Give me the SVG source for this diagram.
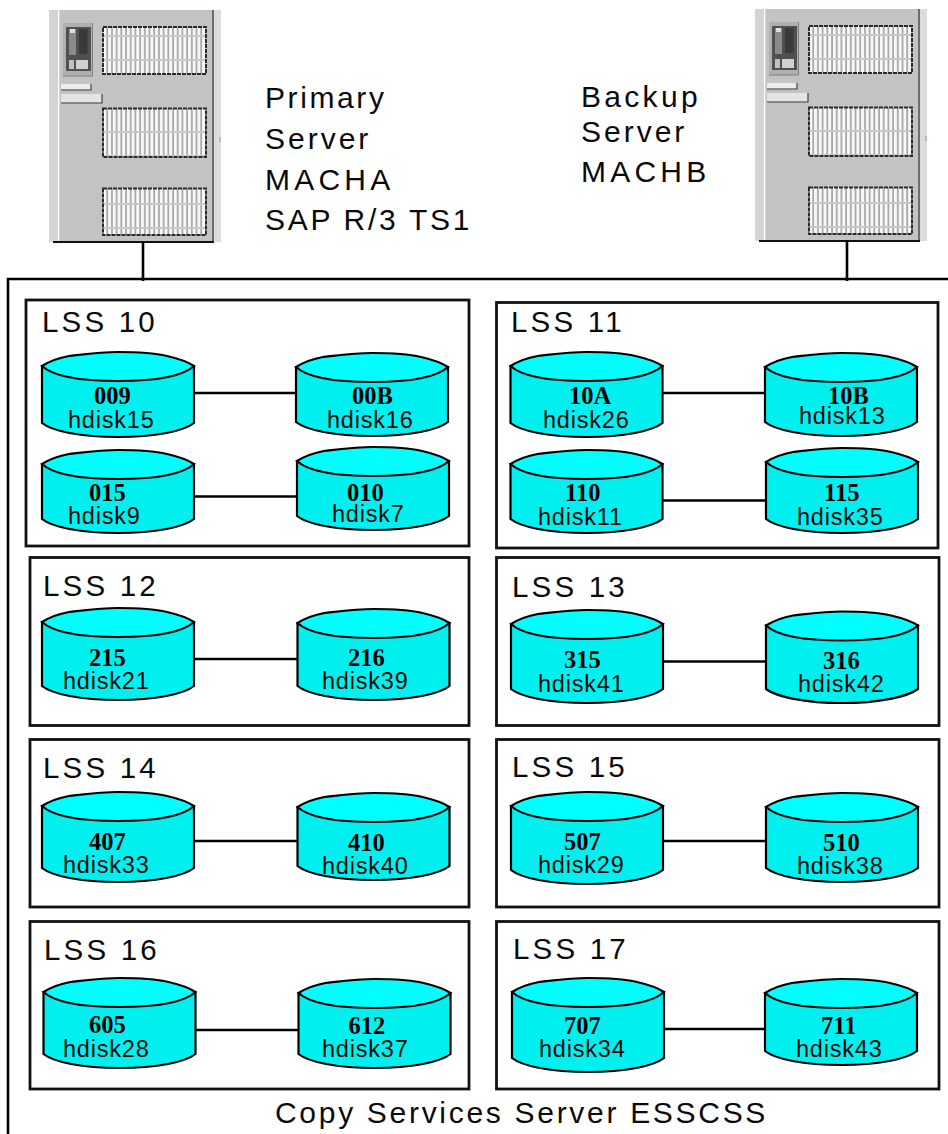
<svg xmlns="http://www.w3.org/2000/svg" width="948" height="1134" viewBox="0 0 948 1134">
<style>
.bg{fill:#fff}
.line{fill:none;stroke:#000;stroke-width:2.6}
.box{fill:#fff;stroke:#111;stroke-width:2.8}
.body{fill:#00f0f0;stroke:#000;stroke-width:2.2}
.top{fill:#0ff;stroke:#000;stroke-width:2.2}
.grille{fill:url(#grid);stroke:#2a2a2a;stroke-width:2;stroke-dasharray:4 1}
.t{font-family:"Liberation Sans",Arial,sans-serif;fill:#0a0a0a}
.big{font-size:30px;letter-spacing:2.7px}
.lss{font-size:29.5px;letter-spacing:3.2px}
.hd{font-size:23.5px;letter-spacing:.8px}
.num{font-family:"Liberation Serif","Times New Roman",serif;font-weight:bold;font-size:24.5px;fill:#000}
</style>
<defs>
<pattern id="grid" width="4.7" height="24" patternUnits="userSpaceOnUse">
<rect width="4.7" height="24" fill="#f8f8f8"/>
<rect x="3" width="1.7" height="24" fill="#a4a4a4"/>
<rect y="11" width="4.7" height="2" fill="#c8c8c8"/>
</pattern>
<path id="top" class="top" d="M0,14 C8,9 16,6 27,4 C45,2 60,0 76,0 C95,0 112,1 125,4 C138,7 146,10 152,14 C140,25 110,29 76,29 C42,29 12,25 0,14 Z"/>
<g id="server">
<rect x="49" y="10" width="172" height="232" fill="#c4c2c4"/>
<rect x="49" y="10" width="9" height="232" fill="#d4d4d4"/>
<rect x="58" y="10" width="1.300" height="232" fill="#fff"/>
<rect x="212" y="10" width="2" height="232" fill="#6e6e6e"/>
<rect x="214" y="10" width="7" height="232" fill="#dcdcdc"/>
<path d="M53,242 H214" stroke="#111" stroke-width="1.800"/>
<rect class="grille" x="103" y="27" width="103" height="47"/>
<rect class="grille" x="103" y="108.500" width="103" height="48.500"/>
<rect class="grille" x="103" y="188.500" width="103" height="46.500"/>
<rect x="63" y="23" width="30" height="53" fill="#b0b0b0"/>
<path d="M92.500,23 V76 H63" fill="none" stroke="#808080" stroke-width="1"/>
<rect x="66" y="27" width="25" height="44" fill="#505050"/>
<rect x="69" y="29" width="7" height="26" fill="#8a8a8a"/>
<rect x="70" y="29" width="5" height="4" fill="#e0e0e0"/>
<rect x="79" y="29" width="8.500" height="25" fill="#3a3a3a"/>
<rect x="69" y="60" width="5" height="9" fill="#c0c0c0"/>
<rect x="76" y="60" width="12" height="9" fill="#d0d0d0"/>
<rect x="61" y="84" width="30" height="5.500" fill="#ececec"/>
<path d="M61,90 H91 V84" fill="none" stroke="#444" stroke-width="1.200"/>
<rect x="61" y="94" width="41" height="8.500" fill="#e4e4e4"/>
<path d="M61,103 H102 V94" fill="none" stroke="#444" stroke-width="1.200"/>
<rect x="219.500" y="137" width="1" height="5" fill="#9a88c0"/>
</g>
</defs>
<rect class="bg" width="948" height="1134"/>

<g id="server-primary"><use href="#server"/></g>
<g id="server-backup"><use href="#server" transform="translate(706,-1)"/></g>

<g id="server-labels">
<text class="t big" x="265" y="108" style="letter-spacing:2.6px">Primary</text>
<text class="t big" x="265" y="149" style="letter-spacing:3px">Server</text>
<text class="t big" x="265" y="190" style="letter-spacing:4.200px">MACHA</text>
<text class="t big" x="265" y="230">SAP R/3 TS1</text>
<text class="t big" x="581" y="107" style="letter-spacing:3.300px">Backup</text>
<text class="t big" x="581" y="142" style="letter-spacing:3px">Server</text>
<text class="t big" x="581" y="182" style="letter-spacing:4.200px">MACHB</text>
</g>

<g id="copy-services-server">
<path class="line" d="M8,1134 V279 H948"/>
<text class="t big" x="275" y="1123">Copy Services Server ESSCSS</text>
</g>

<g id="lss-10"><rect class="box" x="26" y="300" width="443" height="246"/><text class="t lss" x="42" y="332">LSS 10</text></g>
<g id="lss-11"><rect class="box" x="496.500" y="302.500" width="441.500" height="245.500"/><text class="t lss" x="511" y="332">LSS 11</text></g>
<g id="lss-12"><rect class="box" x="30" y="557.500" width="439" height="168"/><text class="t lss" x="43" y="596">LSS 12</text></g>
<g id="lss-13"><rect class="box" x="496.500" y="557.500" width="442.500" height="168"/><text class="t lss" x="512" y="597">LSS 13</text></g>
<g id="lss-14"><rect class="box" x="30" y="739.500" width="439" height="167.500"/><text class="t lss" x="43" y="778">LSS 14</text></g>
<g id="lss-15"><rect class="box" x="496.500" y="739.500" width="442.500" height="167.500"/><text class="t lss" x="512" y="777">LSS 15</text></g>
<g id="lss-16"><rect class="box" x="30" y="921.500" width="439" height="167.500"/><text class="t lss" x="44" y="960">LSS 16</text></g>
<g id="lss-17"><rect class="box" x="496.500" y="921.500" width="442.500" height="167.500"/><text class="t lss" x="513" y="959">LSS 17</text></g>

<g id="connectors" class="line">
<path d="M143,242 V281"/>
<path d="M847,240 V281"/>
<path d="M191,393 H296"/>
<path d="M191,496.500 H297"/>
<path d="M662,393 H765"/>
<path d="M662,500.500 H766"/>
<path d="M194,659 H297"/>
<path d="M194,841 H297"/>
<path d="M661,661.500 H766"/>
<path d="M661,841 H766"/>
<path d="M195,1030 H298"/>
<path d="M661,1029 H765"/>
</g>

<g id="disk-009" transform="translate(42,352)"><path class="body" d="M0,14 V71 C10,79 38,85 76,85 S142,79 152,71 V14 Z"/><use href="#top"/><text class="num" x="52" y="52">009</text><text class="t hd" x="26" y="76">hdisk15</text></g>
<g id="disk-00B" transform="translate(296,353)"><path class="body" d="M0,14 V69 C10,77 38,83 76,83 S142,77 152,69 V14 Z"/><use href="#top"/><text class="num" x="56" y="51">00B</text><text class="t hd" x="31" y="75">hdisk16</text></g>
<g id="disk-015" transform="translate(42,450)"><path class="body" d="M0,14 V69 C10,77 38,83 76,83 S142,77 152,69 V14 Z"/><use href="#top"/><text class="num" x="47" y="50.500">015</text><text class="t hd" x="26" y="74">hdisk9</text></g>
<g id="disk-010" transform="translate(297,447)"><path class="body" d="M0,14 V69 C10,77 38,83 76,83 S142,77 152,69 V14 Z"/><use href="#top"/><text class="num" x="50" y="53.500">010</text><text class="t hd" x="35" y="75">hdisk7</text></g>
<g id="disk-10A" transform="translate(510.500,352)"><path class="body" d="M0,14 V71 C10,79 38,85 76,85 S142,79 152,71 V14 Z"/><use href="#top"/><text class="num" x="58.500" y="52">10A</text><text class="t hd" x="32.500" y="76">hdisk26</text></g>
<g id="disk-10B" transform="translate(765,353)"><path class="body" d="M0,14 V69 C10,77 38,83 76,83 S142,77 152,69 V14 Z"/><use href="#top"/><text class="num" x="63" y="51">10B</text><text class="t hd" x="34" y="71">hdisk13</text></g>
<g id="disk-110" transform="translate(510.500,450)"><path class="body" d="M0,14 V69 C10,77 38,83 76,83 S142,77 152,69 V14 Z"/><use href="#top"/><text class="num" x="54.500" y="50.500">110</text><text class="t hd" x="27.500" y="75">hdisk11</text></g>
<g id="disk-115" transform="translate(766,448)"><path class="body" d="M0,14 V71 C10,79 38,85 76,85 S142,79 152,71 V14 Z"/><use href="#top"/><text class="num" x="58" y="52.500">115</text><text class="t hd" x="31" y="77">hdisk35</text></g>
<g id="disk-215" transform="translate(42,608)"><path class="body" d="M0,14 V78 C10,86 38,92 76,92 S142,86 152,78 V14 Z"/><use href="#top"/><text class="num" x="47" y="58">215</text><text class="t hd" x="21" y="81">hdisk21</text></g>
<g id="disk-216" transform="translate(297.500,609)"><path class="body" d="M0,14 V77 C10,85 38,91 76,91 S142,85 152,77 V14 Z"/><use href="#top"/><text class="num" x="50.500" y="57">216</text><text class="t hd" x="24.500" y="80">hdisk39</text></g>
<g id="disk-407" transform="translate(42,792)"><path class="body" d="M0,14 V76 C10,84 38,90 76,90 S142,84 152,76 V14 Z"/><use href="#top"/><text class="num" x="47" y="58">407</text><text class="t hd" x="21" y="81">hdisk33</text></g>
<g id="disk-410" transform="translate(297.500,793)"><path class="body" d="M0,14 V73 C10,81 38,87 76,87 S142,81 152,73 V14 Z"/><use href="#top"/><text class="num" x="50.500" y="58">410</text><text class="t hd" x="24.500" y="81">hdisk40</text></g>
<g id="disk-315" transform="translate(511,610)"><path class="body" d="M0,14 V79 C10,87 38,93 76,93 S142,87 152,79 V14 Z"/><use href="#top"/><text class="num" x="53" y="58">315</text><text class="t hd" x="27" y="82">hdisk41</text></g>
<g id="disk-316" transform="translate(766,611.500)"><path class="body" d="M0,14 V77.500 C10,85 38,91.500 76,91.500 S142,85 152,77.500 V14 Z"/><use href="#top"/><text class="num" x="57" y="57.500">316</text><text class="t hd" x="32" y="80.500">hdisk42</text></g>
<g id="disk-507" transform="translate(511,792)"><path class="body" d="M0,14 V78 C10,86 38,92 76,92 S142,86 152,78 V14 Z"/><use href="#top"/><text class="num" x="53" y="58">507</text><text class="t hd" x="27" y="81">hdisk29</text></g>
<g id="disk-510" transform="translate(766,793)"><path class="body" d="M0,14 V75 C10,83 38,89 76,89 S142,83 152,75 V14 Z"/><use href="#top"/><text class="num" x="57" y="58">510</text><text class="t hd" x="31" y="81">hdisk38</text></g>
<g id="disk-605" transform="translate(43.500,978)"><path class="body" d="M0,14 V76 C10,84 38,90 76,90 S142,84 152,76 V14 Z"/><use href="#top"/><text class="num" x="45.500" y="55">605</text><text class="t hd" x="19.500" y="79">hdisk28</text></g>
<g id="disk-612" transform="translate(298.500,979)"><path class="body" d="M0,14 V75 C10,83 38,89 76,89 S142,83 152,75 V14 Z"/><use href="#top"/><text class="num" x="50" y="55">612</text><text class="t hd" x="23.500" y="78">hdisk37</text></g>
<g id="disk-707" transform="translate(512,978)"><path class="body" d="M0,14 V80 C10,88 38,94 76,94 S142,88 152,80 V14 Z"/><use href="#top"/><text class="num" x="52" y="56">707</text><text class="t hd" x="27" y="79">hdisk34</text></g>
<g id="disk-711" transform="translate(765,979)"><path class="body" d="M0,14 V72 C10,80 38,86 76,86 S142,80 152,72 V14 Z"/><use href="#top"/><text class="num" x="56" y="55">711</text><text class="t hd" x="31" y="78">hdisk43</text></g>
</svg>
